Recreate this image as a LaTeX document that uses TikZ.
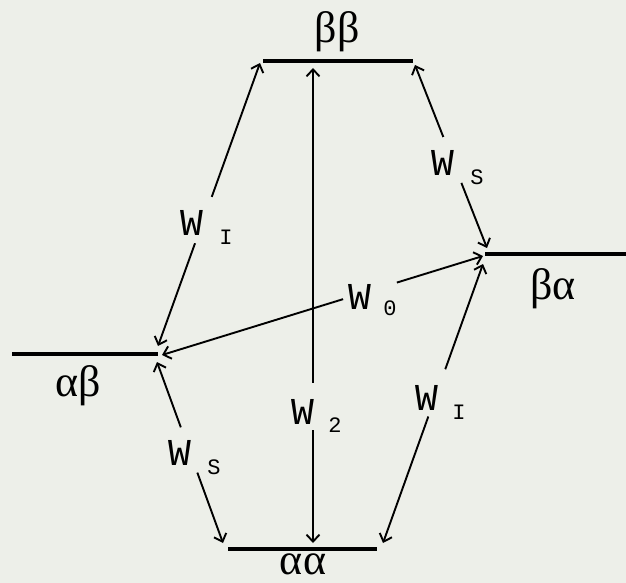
\documentclass[tikz,border=0pt]{standalone}
\usepackage{fontspec}
\setmainfont{Liberation Serif}
\newfontfamily\labfont{Liberation Mono}
\usetikzlibrary{arrows.meta,calc}
\definecolor{bgc}{RGB}{237,239,233}
\begin{document}
\begin{tikzpicture}[x=1pt,y=-1pt,
  bar/.style={line width=3.8pt},
  tip/.tip={Straight Barb[length=7pt,width=13pt]},
  arr/.style={line width=1.9pt,tip-tip},
  gap/.style={fill=bgc,inner sep=0pt,minimum height=8pt,sloped},
  wlab/.style={font=\labfont\fontsize{38}{38}\selectfont,inner sep=0pt},
  sublab/.style={font=\labfont\fontsize{22}{22}\selectfont,inner sep=0pt},
  lev/.style={font=\fontsize{44}{44}\selectfont,inner sep=0pt}]
\fill[bgc] (0,0) rectangle (626,583);
\useasboundingbox (0,0) rectangle (626,583);
% energy levels
\coordinate (bbL) at (263,61);  \coordinate (bbR) at (413,61);
\coordinate (baL) at (485,254); \coordinate (baR) at (626,254);
\coordinate (abL) at (12,354);  \coordinate (abR) at (158,354);
\coordinate (aaL) at (228,549); \coordinate (aaR) at (377,549);
\draw[bar] (bbL) -- (bbR);
\draw[bar] (baL) -- (baR);
\draw[bar] (abL) -- (abR);
\draw[bar] (aaL) -- (aaR);
\node[lev] (tbb) at (337,32) {ββ};
\node[lev] (tba) at (553,289) {βα};
\node[lev] (tab) at (78,386) {αβ};
\node[lev] (taa) at (303,564) {αα};
% arrow end points
\coordinate (wi1a) at (158,346); \coordinate (wi1b) at (260,63);
\coordinate (ws1a) at (415,65);  \coordinate (ws1b) at (487,248);
\coordinate (w0a) at (162,355);  \coordinate (w0b) at (483,256);
\coordinate (w2a) at (313,68);   \coordinate (w2b) at (313,543);
\coordinate (ws2a) at (157,362); \coordinate (ws2b) at (223,543);
\coordinate (wi2a) at (383,543); \coordinate (wi2b) at (483,264);
% transitions
\draw[arr] (wi1a) -- node[gap,pos=0.445,minimum width=49pt]{} (wi1b);
\draw[arr] (ws1a) -- node[gap,pos=0.519,minimum width=49pt]{} (ws1b);
\draw[arr] (w0a)  -- node[gap,pos=0.648,minimum width=56pt]{} (w0b);
\draw[arr] (w2a)  -- node[gap,pos=0.7126,minimum width=47pt]{} (w2b);
\draw[arr] (ws2a) -- node[gap,pos=0.486,minimum width=48pt]{} (ws2b);
\draw[arr] (wi2a) -- node[gap,pos=0.538,minimum width=50pt]{} (wi2b);
% labels
\node[wlab] (lwi1) at (192,223) {W}; \node[sublab] (swi1) at ($(lwi1)+(34,14)$) {I};
\node[wlab] (lws1) at (443,163) {W}; \node[sublab] (sws1) at ($(lws1)+(34,14)$) {S};
\node[wlab] (lw0)  at (360,297) {W}; \node[sublab] (sw0)  at ($(lw0)+(30,11)$) {0};
\node[wlab] (lw2)  at (303,412) {W}; \node[sublab] (sw2)  at ($(lw2)+(32,13)$) {2};
\node[wlab] (lws2) at (180,453) {W}; \node[sublab] (sws2) at ($(lws2)+(34,14)$) {S};
\node[wlab] (lwi2) at (427,398) {W}; \node[sublab] (swi2) at ($(lwi2)+(32,14)$) {I};
\end{tikzpicture}
\end{document}
